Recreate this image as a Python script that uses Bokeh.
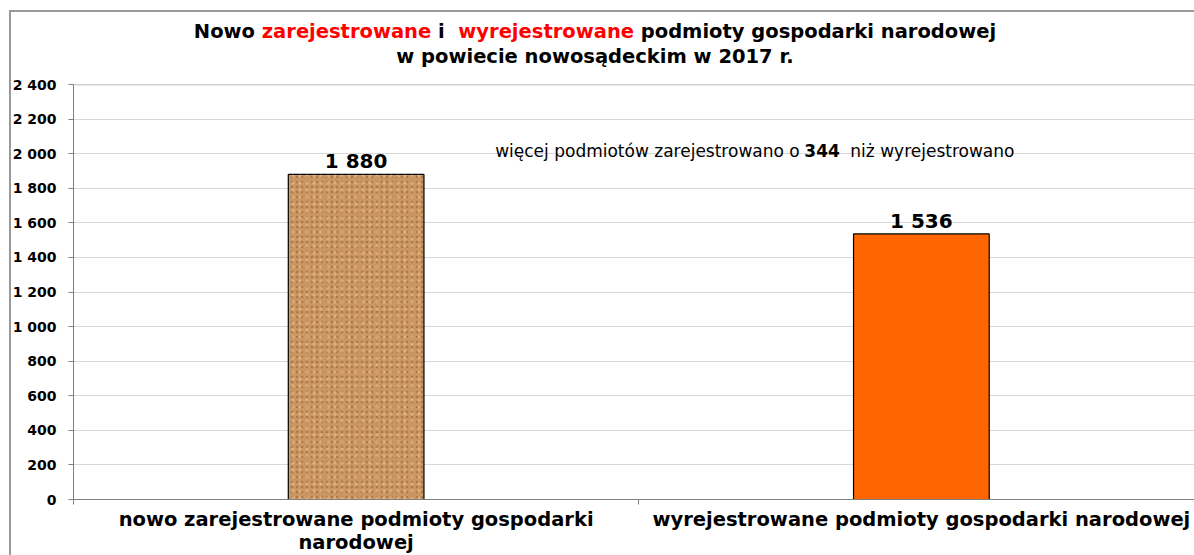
from bokeh.plotting import figure
from bokeh.models import Range1d, FixedTicker, Label, LabelSet, ColumnDataSource, Span, Div
from bokeh.layouts import column
from bokeh.core.properties import value
from bokeh.embed import file_html
from bokeh.resources import INLINE

# ---------------- data ----------------
categories = ["nowo zarejestrowane podmioty gospodarki narodowej",
              "wyrejestrowane podmioty gospodarki narodowej"]
category_labels = ["nowo zarejestrowane podmioty gospodarki\nnarodowej",
                   "wyrejestrowane podmioty gospodarki narodowej"]
values = [1880, 1536]
value_labels = ["1 880", "1 536"]
y_ticks = [0, 200, 400, 600, 800, 1000, 1200, 1400, 1600, 1800, 2000, 2200, 2400]
y_tick_labels = ["0", "200", "400", "600", "800", "1 000", "1 200", "1 400",
                 "1 600", "1 800", "2 000", "2 200", "2 400"]
title_line1 = [("Nowo ", "black"), ("zarejestrowane", "#FF0000"), (" i&nbsp; ", "black"),
               ("wyrejestrowane", "#FF0000"), (" podmioty gospodarki narodowej", "black")]
title_line2 = "w powiecie nowosądeckim w 2017 r."
note_parts = [("więcej podmiotów zarejestrowano o", "normal"), ("344", "bold"),
              ("niż wyrejestrowano", "normal")]

# ---------------- layout helpers (page pixels -> data) ----------------
FRAME_LEFT, CAT_W = 73.5, 565.0
FRAME_BOTTOM, FRAME_H, YMAX = 499.0, 415.0, 2400.0
X_END = (1194 - FRAME_LEFT) / CAT_W


def dx(px):
    return (px - FRAME_LEFT) / CAT_W


def dy(py):
    return (FRAME_BOTTOM - py) * YMAX / FRAME_H


FONT = "DejaVu Sans"
BORDER = "#9a9a9a"

# ---------------- title (HTML, multi-coloured) ----------------
spans = "".join(
    f'<span style="color:{c}">{t}</span>' for t, c in title_line1)
title_html = (
    f'<div style="font-family:\'{FONT}\';font-weight:bold;font-size:19.5px;'
    f'line-height:25px;text-align:center;padding-top:9px;color:black;'
    f'white-space:nowrap;margin:0;width:1172px">{spans}<br>{title_line2}</div>')
title_div = Div(text=title_html, width=1172, height=64, margin=0)

# ---------------- figure ----------------
p = figure(width=1185, height=489, output_backend="svg", toolbar_location=None,
           x_range=Range1d(0, X_END), y_range=Range1d(0, YMAX),
           min_border_left=64, min_border_right=0, min_border_top=10,
           min_border_bottom=64, margin=0)
p.outline_line_color = None
p.background_fill_color = "white"
p.border_fill_color = None

xs = [i + 0.5 for i in range(len(categories))]
src = ColumnDataSource(dict(x=xs, top=values, lab=value_labels))

# cork-like textured bar
p.vbar(x=[xs[0]], top=[values[0]], width=0.24, fill_color="#CB9662",
       line_color="black", line_width=1.2,
       hatch_pattern="dot", hatch_color="#8E5A2C", hatch_alpha=0.5,
       hatch_scale=5, hatch_weight=1.6)
p.vbar(x=[xs[0]], top=[values[0]], width=0.24, fill_alpha=0, line_color=None,
       hatch_pattern="dot", hatch_color="#E8C293", hatch_alpha=0.55,
       hatch_scale=7, hatch_weight=2.2)
p.vbar(x=[xs[1]], top=[values[1]], width=0.24, fill_color="#FF6600",
       line_color="black", line_width=1.2)

p.add_layout(LabelSet(x="x", y="top", text="lab", source=src, text_align="center",
                      text_baseline="alphabetic", y_offset=6,
                      text_font=value(FONT), text_font_style="bold",
                      text_font_size="20px", text_color="black"))

# axes
p.yaxis.ticker = FixedTicker(ticks=y_ticks)
p.yaxis.major_label_overrides = {t: l for t, l in zip(y_ticks, y_tick_labels)}
p.yaxis.major_label_text_font = FONT
p.yaxis.major_label_text_font_style = "bold"
p.yaxis.major_label_text_font_size = "14px"
p.yaxis.major_label_text_color = "black"
p.yaxis.major_label_standoff = 12
p.yaxis.major_tick_in = 0
p.yaxis.major_tick_out = 5
p.yaxis.major_tick_line_color = "#808080"
p.yaxis.axis_line_color = "#808080"
p.yaxis.minor_tick_line_color = None

p.xaxis.ticker = FixedTicker(ticks=xs, minor_ticks=[0, 1, 2])
p.xaxis.major_label_overrides = {x: l for x, l in zip(xs, category_labels)}
p.xaxis.major_label_text_font = FONT
p.xaxis.major_label_text_font_style = "bold"
p.xaxis.major_label_text_font_size = "19.5px"
p.xaxis.major_label_text_color = "black"
p.xaxis.major_label_text_line_height = 1.0
p.xaxis.major_label_standoff = 3
p.xaxis.major_tick_in = 0
p.xaxis.major_tick_out = 0
p.xaxis.minor_tick_in = 0
p.xaxis.minor_tick_out = 5
p.xaxis.minor_tick_line_color = "#808080"
p.xaxis.axis_line_color = "#808080"

p.xgrid.grid_line_color = None
p.ygrid.ticker = FixedTicker(ticks=y_ticks)
p.ygrid.grid_line_color = "#D9D9D9"
p.add_layout(Span(location=YMAX, dimension="width", line_color="#A0A0A0", line_width=1.5))

# note inside the plot area
note_x = [495, 804, 850]
for (txt, style), px in zip(note_parts, note_x):
    p.add_layout(Label(x=dx(px), y=dy(150), text=txt, text_align="left",
                       text_baseline="alphabetic", text_font=FONT,
                       text_font_style=style, text_font_size="17px",
                       text_color="black"))

bg = (f"linear-gradient({BORDER},{BORDER}) left top / 2px 100% no-repeat, "
      f"linear-gradient({BORDER},{BORDER}) left top / 100% 2px no-repeat, white")
layout = column(title_div, p, spacing=0,
                styles={"margin-left": "9px", "margin-top": "10px", "background": bg})

html = file_html(layout, INLINE)
html = html.replace("</head>", "<style>html,body{overflow:hidden}</style></head>", 1)
open("out.html", "w").write(html)
